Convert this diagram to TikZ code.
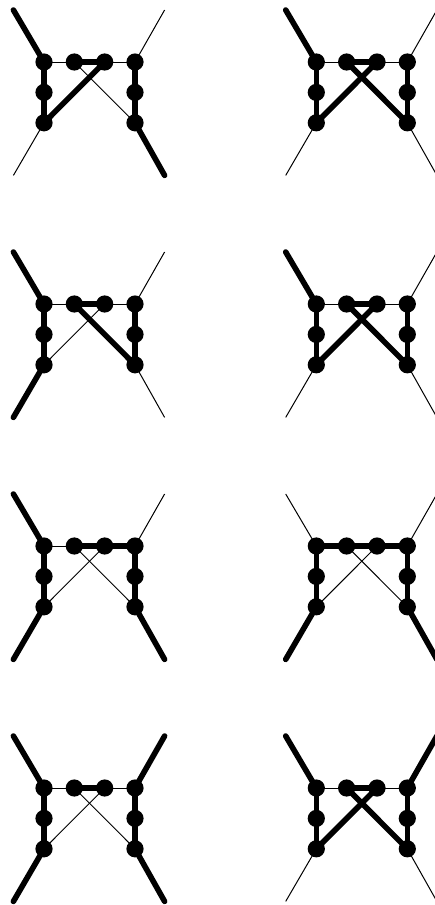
\documentclass[tikz,border=0pt]{standalone}
\tikzset{
  vertexdot/.style={circle,fill=black,draw=none,inner sep=0pt,minimum size=17.2pt},
  thn/.style={line width=1pt,black},
  thk/.style={line width=5.6pt,black,line cap=round},
  eTL/.style={thn},eTR/.style={thn},eBL/.style={thn},eBR/.style={thn},
  eLa/.style={thn},eab/.style={thn},ebR/.style={thn},
  eaD/.style={thn},ebC/.style={thn},eRight/.style={thk},
}
% #1 prefix, #2 x of left column, #3 y of top row, #4 overrides
\newcommand{\gdiagram}[4]{%
  \begin{scope}[shift={(#2,#3)},#4]
    \node[vertexdot] (#1L) at (0,0) {};
    \node[vertexdot] (#1a) at (30.3,0) {};
    \node[vertexdot] (#1b) at (60.7,0) {};
    \node[vertexdot] (#1R) at (91,0) {};
    \node[vertexdot] (#1M) at (0,30.4) {};
    \node[vertexdot] (#1C) at (0,60.8) {};
    \node[vertexdot] (#1N) at (91,30.4) {};
    \node[vertexdot] (#1D) at (91,60.8) {};
    \coordinate (#1tl) at (-30.6,-52);
    \coordinate (#1tr) at (120.6,-52);
    \coordinate (#1bl) at (-30.6,113.4);
    \coordinate (#1br) at (120.6,113.4);
    \draw[eTL] (#1L.center) -- (#1tl);
    \draw[eTR] (#1R.center) -- (#1tr);
    \draw[eBL] (#1C.center) -- (#1bl);
    \draw[eBR] (#1D.center) -- (#1br);
    \draw[eLa] (#1L.center) -- (#1a.center);
    \draw[eab] (#1a.center) -- (#1b.center);
    \draw[ebR] (#1b.center) -- (#1R.center);
    \draw[eaD] (#1a.center) -- (#1D.center);
    \draw[ebC] (#1b.center) -- (#1C.center);
    \draw[thk] (#1L.center) -- (#1M.center);
    \draw[thk] (#1M.center) -- (#1C.center);
    \draw[eRight] (#1R.center) -- (#1N.center);
    \draw[eRight] (#1N.center) -- (#1D.center);
  \end{scope}}
\begin{document}
\begin{tikzpicture}[x=1pt,y=-1pt]
  \useasboundingbox (0,0) rectangle (435,905);
  \clip (0,0) rectangle (435,905);
  \gdiagram{p}{44}{62}{eTL/.style={thk},eBR/.style={thk},eab/.style={thk},ebC/.style={thk}}
  \gdiagram{q}{316.3}{62}{eTL/.style={thk},eab/.style={thk},ebC/.style={thk},eaD/.style={thk}}
  \gdiagram{r}{44}{304}{eTL/.style={thk},eBL/.style={thk},eab/.style={thk},eaD/.style={thk}}
  \gdiagram{s}{316.3}{304}{eTL/.style={thk},eab/.style={thk},ebC/.style={thk},eaD/.style={thk}}
  \gdiagram{t}{44}{546}{eTL/.style={thk},eBL/.style={thk},eBR/.style={thk},eab/.style={thk},ebR/.style={thk}}
  \gdiagram{u}{316.3}{546}{eBL/.style={thk},eBR/.style={thk},eLa/.style={thk},eab/.style={thk},ebR/.style={thk}}
  \gdiagram{v}{44}{788}{eTL/.style={thk},eTR/.style={thk},eBL/.style={thk},eBR/.style={thk},eab/.style={thk}}
  \gdiagram{w}{316.3}{788}{eTL/.style={thk},eTR/.style={thk},eab/.style={thk},ebC/.style={thk},eaD/.style={thk}}
\end{tikzpicture}
\end{document}
